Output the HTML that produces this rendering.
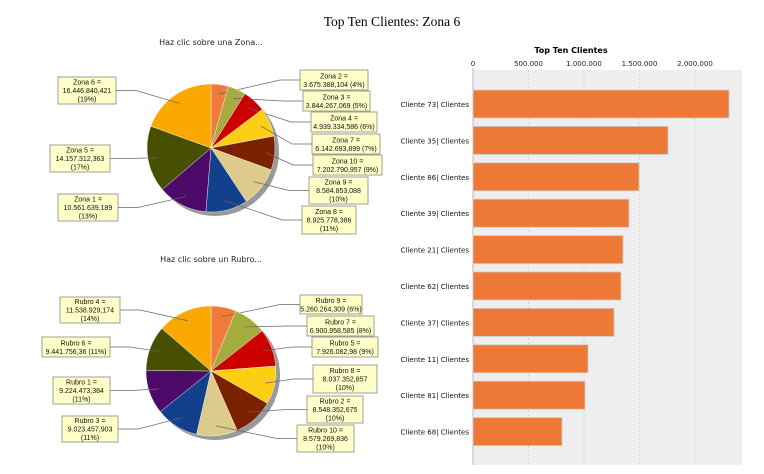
<!DOCTYPE html>
<html><head><meta charset="utf-8"><style>
body{margin:0;background:#fff;width:764px;height:474px;overflow:hidden}
svg{display:block;font-family:"DejaVu Sans","Liberation Sans",sans-serif}
</style></head><body>
<svg id="s" width="764" height="474" xmlns="http://www.w3.org/2000/svg">
<text x="392" y="26" font-family="Liberation Serif,serif" font-size="13.5" text-anchor="middle">Top Ten Clientes: Zona 6</text>
<text x="211" y="45" font-size="8" text-anchor="middle" fill="#222">Haz clic sobre una Zona...</text>
<text x="211" y="262" font-size="8" text-anchor="middle" fill="#222">Haz clic sobre un Rubro...</text>
<text x="571" y="53" font-size="8" font-weight="bold" text-anchor="middle">Top Ten Clientes</text>
<rect x="473" y="70" width="269" height="395" fill="#eeeeee"/>
<g stroke="#d0d0d0" stroke-dasharray="2,2" stroke-width="0.8">
<line x1="528.5" y1="70" x2="528.5" y2="465"/><line x1="584" y1="70" x2="584" y2="465"/><line x1="639.5" y1="70" x2="639.5" y2="465"/><line x1="695" y1="70" x2="695" y2="465"/></g>
<line x1="473" y1="68" x2="473" y2="465" stroke="#bbb"/>
<g font-size="7" text-anchor="middle" fill="#222">
<text x="473" y="66">0</text><text x="528.5" y="66">500.000</text><text x="584" y="66">1.000.000</text><text x="639.5" y="66">1.500.000</text><text x="695" y="66">2.000.000</text></g>
<g id="bars"></g>
<g id="pies"></g>
</svg>
<script>
var NS="http://www.w3.org/2000/svg",s=document.getElementById('s');
function el(t,a,p,txt){var e=document.createElementNS(NS,t);for(var k in a)e.setAttribute(k,a[k]);if(txt)e.textContent=txt;(p||s).appendChild(e);return e;}
var bars=[[73,729],[35,668],[86,639],[39,629],[21,623],[62,621],[37,614],[11,588],[81,585],[68,562]];
var bg=document.getElementById('bars');
bars.forEach(function(b,i){var y=90+i*36.4;
el('rect',{x:473,y:y,width:b[1]-473,height:28,fill:'#ee7835',stroke:'#ccc','stroke-width':0.8},bg);
el('text',{x:469,y:y+17,'font-size':7,'text-anchor':'end',fill:'#111'},bg,'Cliente '+b[0]+'| Clientes');});
var cols=['#ee7b3a','#a5ab3d','#cc0000','#fccf15','#7a2100','#dccb8a','#12408a','#4d0a68','#475000','#fba800'];
function pie(cx,cy,r,vals,labels){
 var g=document.getElementById('pies');
 el('circle',{cx:cx+4,cy:cy+4,r:r,fill:'#999'},g);
 var tot=vals.reduce(function(a,b){return a+b},0),a=-Math.PI/2;
 vals.forEach(function(v,i){var a2=a+v/tot*2*Math.PI;
  var x1=cx+r*Math.cos(a),y1=cy+r*Math.sin(a),x2=cx+r*Math.cos(a2),y2=cy+r*Math.sin(a2);
  el('path',{d:'M'+cx+','+cy+'L'+x1+','+y1+'A'+r+','+r+' 0 '+((a2-a)>Math.PI?1:0)+' 1 '+x2+','+y2+'Z',fill:cols[i],stroke:'#fff','stroke-width':0.4},g);
  var m=(a+a2)/2,ax=cx+r*0.85*Math.cos(m),ay=cy+r*0.85*Math.sin(m);
  var L=labels[i],bx=L[0],by=L[1],bw=L[2],bh=L[3];
  var right=bx>cx,ex=right?bx:bx+bw,ey=by+bh/2,sx=right?ex-20:ex+20;
  el('polyline',{points:ex+','+ey+' '+sx+','+ey+' '+ax+','+ay,fill:'none',stroke:'#666','stroke-width':0.7},g);
  el('rect',{x:bx,y:by,width:bw,height:bh,fill:'#ffffc8',stroke:'#888','stroke-width':0.8},g);
  var lines=L[4],n=lines.length;
  lines.forEach(function(t,j){el('text',{x:bx+bw/2,y:by+bh/2+(j-(n-1)/2)*8.4+2.6,'font-size':7,'font-family':'Liberation Sans,sans-serif','text-anchor':'middle',fill:'#111'},g,t);});
  a=a2;});
}
pie(211,148,64,[3.675,3.844,4.939,6.143,7.203,8.585,8.926,10.562,14.157,16.447],[
[300,70,68,20,['Zona 2 =','3.675.388,104 (4%)']],
[303,91,67,20,['Zona 3 =','3.844.267,069 (5%)']],
[311,112,66,20,['Zona 4 =','4.939.334,586 (6%)']],
[312,134,68,20,['Zona 7 =','6.142.693,899 (7%)']],
[313,155,69,20,['Zona 10 =','7.202.790,957 (9%)']],
[309,177,59,27,['Zona 9 =','8.584.853,088','(10%)']],
[302,206,54,28,['Zona 8 =','8.925.778,386','(11%)']],
[58,194,60,27,['Zona 1 =','10.561.639,189','(13%)']],
[50,145,60,27,['Zona 5 =','14.157.312,363','(17%)']],
[58,77,58,27,['Zona 6 =','16.446.840,421','(19%)']]]);
pie(211,371,65,[5.26,6.90,7.93,8.04,8.55,8.58,9.02,9.22,9.44,11.54],[
[300,295,62,19,['Rubro 9 =','5.260.264,309 (6%)']],
[307,316,67,20,['Rubro 7 =','6.900.958,585 (8%)']],
[312,337,66,20,['Rubro 5 =','7.926.082,98 (9%)']],
[313,365,64,28,['Rubro 8 =','8.037.352,857','(10%)']],
[307,396,56,27,['Rubro 2 =','8.548.352,675','(10%)']],
[297,425,57,27,['Rubro 10 =','8.579.269,836','(10%)']],
[62,416,56,26,['Rubro 3 =','9.023.457,903','(11%)']],
[53,377,57,27,['Rubro 1 =','9.224.473,384','(11%)']],
[42,337,68,20,['Rubro 6 =','9.441.756,36 (11%)']],
[60,297,60,26,['Rubro 4 =','11.538.929,174','(14%)']]]);
</script>
</body></html>
